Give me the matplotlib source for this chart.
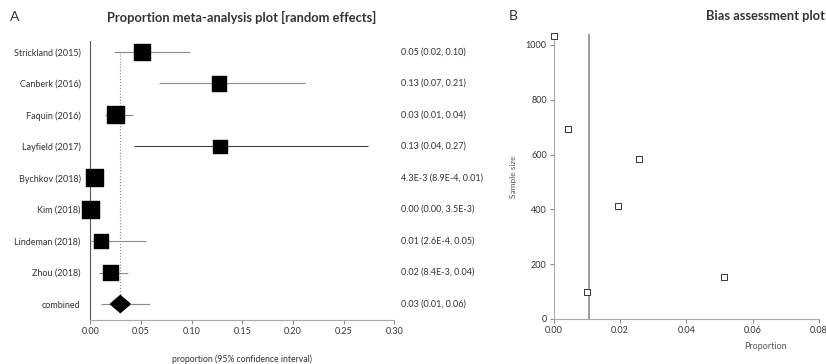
import numpy as np
import matplotlib
matplotlib.use('Agg')
import matplotlib.pyplot as plt
from matplotlib.transforms import blended_transform_factory

plt.rcParams['font.family'] = ['Lato', 'DejaVu Sans']

# panel A: proportion meta-analysis
studies = ['Strickland (2015)', 'Canberk (2016)', 'Faquin (2016)', 'Layfield (2017)',
           'Bychkov (2018)', 'Kim (2018)', 'Lindeman (2018)', 'Zhou (2018)']
est = [0.051, 0.127, 0.025, 0.128, 0.0043, 0.0, 0.0106, 0.0201]
lo = [0.023, 0.068, 0.0148, 0.043, 0.00089, 0.0, 0.00026, 0.0084]
hi = [0.098, 0.212, 0.042, 0.274, 0.01, 0.0035, 0.055, 0.0375]
weights = [13.0, 11.4, 14.7, 9.3, 14.7, 14.7, 10.0, 12.2]
ci_text = ['0.05 (0.02, 0.10)', '0.13 (0.07, 0.21)', '0.03 (0.01, 0.04)', '0.13 (0.04, 0.27)',
           '4.3E-3 (8.9E-4, 0.01)', '0.00 (0.00, 3.5E-3)', '0.01 (2.6E-4, 0.05)',
           '0.02 (8.4E-3, 0.04)']
comb_est, comb_lo, comb_hi = 0.0296, 0.0103, 0.059
comb_text = '0.03 (0.01, 0.06)'

# panel B: bias assessment
prop_b = [0.0, 0.0044, 0.0256, 0.0195, 0.0101, 0.0514]
size_b = [1034, 692, 584, 411, 97, 154]
bias_line = 0.0105

W, H = 826, 364
fig = plt.figure(figsize=(W / 100, H / 100), dpi=100)
axA = fig.add_axes([90.3 / W, 1 - 320 / H, 304 / W, 279 / H])
axB = fig.add_axes([553.7 / W, 1 - 319 / H, 265.3 / W, 285 / H])

grey = '#8c8c8c'
txt = '#333333'

# --- A ---
n = len(studies)
rows = np.arange(n + 1, 1, -1)  # studies at 9..2, combined at 1
ci_cols = [grey] * n
ci_cols[3] = '#444444'
axA.hlines(rows, lo, hi, color=ci_cols, lw=0.8, zorder=1)
side = 17 * np.sqrt(np.array(weights) / 14.7) * 0.72  # px -> pt
axA.scatter(est, rows, marker='s', s=side ** 2, color='black', zorder=3, clip_on=False)
axA.plot([comb_est, comb_est], [rows[0], 1], color=grey, ls=':', lw=0.8, zorder=0)
axA.hlines(1, comb_lo, comb_hi, color=grey, lw=0.8, zorder=1)
hw, hh = 0.0098, 0.27
axA.fill([comb_est - hw, comb_est, comb_est + hw, comb_est],
         [1, 1 + hh, 1, 1 - hh], color='black', zorder=3)

axA.set_xlim(0, 0.30)
axA.set_ylim(0.494, n + 1.34)
axA.set_xticks(np.arange(0, 0.31, 0.05))
axA.set_xticklabels(['%.2f' % v for v in np.arange(0, 0.31, 0.05)])
axA.set_yticks(list(rows) + [1])
axA.set_yticklabels(studies + ['combined'])
axA.tick_params(axis='y', length=0, pad=7, labelsize=6.5, labelcolor=txt)
axA.tick_params(axis='x', length=3, color=grey, labelsize=6.5, labelcolor=txt, pad=2)
for s in ['top', 'right']:
    axA.spines[s].set_visible(False)
axA.spines['left'].set_color('#555555')
axA.spines['bottom'].set_color('#aaaaaa')
axA.set_xlabel('proportion (95% confidence interval)', fontsize=6.2, color=txt, labelpad=13)

tr = blended_transform_factory(axA.transAxes, axA.transData)
for r, t in zip(list(rows) + [1], ci_text + [comb_text]):
    axA.text(1.021, r, t, transform=tr, fontsize=6.5, color=txt, va='center', ha='left')

fig.text(15 / W, 1 - 17 / H, 'A', fontsize=10, color=txt, va='center', ha='center')
fig.text(242 / W, 1 - 17 / H, 'Proportion meta-analysis plot [random effects]',
         fontsize=9.3, fontweight='bold', color=txt, va='center', ha='center')

# --- B ---
axB.axvline(bias_line, color=grey, lw=1.2, zorder=1)
axB.scatter(prop_b, size_b, marker='s', s=16, facecolor='white', edgecolor='#333333',
            linewidths=0.7, zorder=3, clip_on=False)
axB.set_xlim(0, 0.08)
axB.set_ylim(0, 1040)
axB.set_xticks(np.arange(0, 0.081, 0.02))
axB.set_xticklabels(['%.2f' % v for v in np.arange(0, 0.081, 0.02)])
axB.set_yticks(np.arange(0, 1001, 200))
axB.tick_params(length=3, color=grey, labelsize=6.5, labelcolor=txt, pad=2)
for s in ['top', 'right']:
    axB.spines[s].set_visible(False)
axB.spines['left'].set_color('#aaaaaa')
axB.spines['bottom'].set_color('#aaaaaa')
axB.set_xlabel('Proportion', fontsize=6.5, color='#555555', labelpad=4)
axB.xaxis.set_label_coords(212 / 265.3, -23 / 285)
axB.set_ylabel('Sample size', fontsize=6, color='#555555', labelpad=4)
axB.yaxis.set_label_coords(-36.7 / 265.3, 0.5)

fig.text(513 / W, 1 - 16 / H, 'B', fontsize=10, color=txt, va='center', ha='center')
fig.text(825 / W, 1 - 16 / H, 'Bias assessment plot', fontsize=9.3, fontweight='bold',
         color=txt, va='center', ha='right')

fig.savefig('out.png', dpi=100)
